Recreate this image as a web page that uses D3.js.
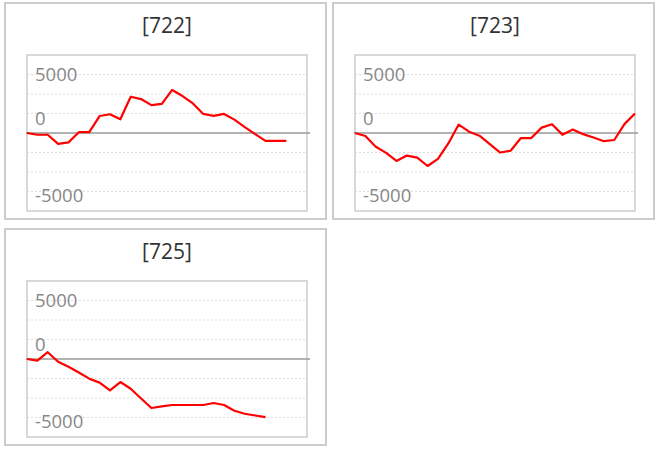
<!DOCTYPE html>
<html><head><meta charset="utf-8">
<script src="https://cdn.jsdelivr.net/npm/d3@7"></script>
<style>html,body{margin:0;padding:0;background:#fff;}svg{display:block;}</style>
</head><body>
<script>
const titles = ["[722]", "[723]", "[725]"];
const series722 = [0, -150, -150, -930, -800, 70, 70, 1450, 1600, 1170, 3100, 2900, 2380, 2490, 3680, 3160, 2530, 1630, 1470, 1630, 1140, 500, -100, -670, -670, -670];
const series723 = [0, -260, -1180, -1700, -2390, -1930, -2100, -2820, -2210, -890, 720, 115, -230, -950, -1670, -1520, -430, -430, 460, 750, -140, 290, -100, -380, -700, -600, 780, 1660];
const series725 = [0, -145, 580, -230, -665, -1160, -1680, -2020, -2690, -1970, -2540, -3380, -4190, -4050, -3930, -3930, -3930, -3930, -3760, -3930, -4420, -4680, -4830, -4970];
const seriesList = [series722, series723, series725];
const tickValues = [5000, 0, -5000];
const tickLabels = ["5000", "0", "-5000"];
const gridStep = 5000 / 3;
const xSlots = 27;

const W = 662, H = 449;
const svg = d3.select("body").append("svg").attr("width", W).attr("height", H);

const plot = {left: 27, right: 307, top: 55, bottom: 211};
const x = d3.scaleLinear().domain([0, xSlots]).range([plot.left, plot.right]);
const y = d3.scaleLinear().domain([-4 * gridStep, 4 * gridStep]).range([plot.bottom, plot.top]);
const gridVals = d3.range(-3, 4).filter(k => k !== 0).map(k => k * gridStep);

titles.forEach((t, i) => {
  const col = i % 2, row = Math.floor(i / 2);
  const g = svg.append("g").attr("transform", `translate(${col * 328},${row * 226})`);
  g.append("rect").attr("x", 5).attr("y", 3).attr("width", 321).attr("height", 216)
    .attr("fill", "#fff").attr("stroke", "#cccccc").attr("stroke-width", 2);
  g.append("text").attr("x", (plot.left + plot.right) / 2).attr("y", 25)
    .attr("text-anchor", "middle").attr("dominant-baseline", "central")
    .attr("font-family", "Open Sans, sans-serif").attr("font-size", 21).attr("fill", "#333")
    .text(t);
  g.selectAll("line.grid").data(gridVals).join("line").attr("class", "grid")
    .attr("x1", plot.left).attr("x2", plot.right)
    .attr("y1", d => y(d)).attr("y2", d => y(d))
    .attr("stroke", "#dddddd").attr("stroke-width", 1).attr("stroke-dasharray", "2,2");
  g.append("rect").attr("x", plot.left).attr("y", plot.top)
    .attr("width", plot.right - plot.left).attr("height", plot.bottom - plot.top)
    .attr("fill", "none").attr("stroke", "#cccccc").attr("stroke-width", 1.5);
  g.append("line").attr("x1", plot.left - 1).attr("x2", plot.right + 3)
    .attr("y1", y(0)).attr("y2", y(0)).attr("stroke", "#999").attr("stroke-width", 1.5);
  g.selectAll("text.tick").data(tickValues).join("text").attr("class", "tick")
    .attr("x", plot.left + 8)
    .attr("y", d => y(d) + (d === 0 ? -16 : d > 0 ? -1 : 3))
    .attr("dominant-baseline", "central")
    .attr("font-family", "Open Sans, sans-serif").attr("font-size", 18.5).attr("fill", "#888")
    .text((d, j) => tickLabels[j]);
  const line = d3.line().x((d, j) => x(j)).y(d => y(d));
  g.append("path").datum(seriesList[i]).attr("d", line)
    .attr("fill", "none").attr("stroke", "#ff0000").attr("stroke-width", 2.2)
    .attr("stroke-linejoin", "round");
});
</script>
</body></html>
